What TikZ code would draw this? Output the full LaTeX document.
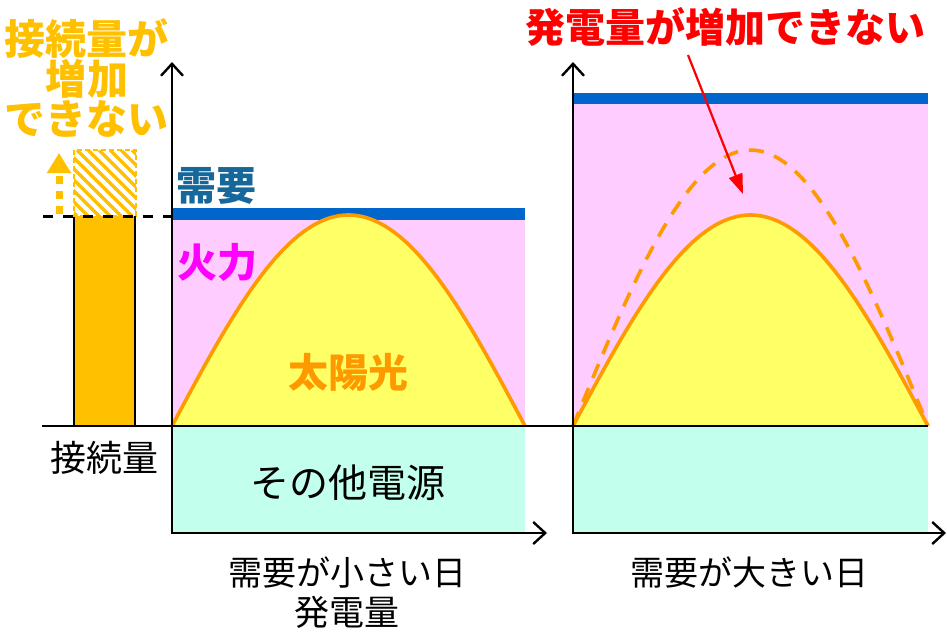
\documentclass[tikz,border=0pt]{standalone}
\usepackage{fontspec}
\newfontfamily\jp{Noto Sans CJK JP}
\usetikzlibrary{arrows.meta}
\definecolor{barorange}{HTML}{FFC000}
\definecolor{pinkfill}{HTML}{FFCCFF}
\definecolor{cyanfill}{HTML}{C2FFEC}
\definecolor{sunfill}{HTML}{FFFF66}
\definecolor{sunline}{HTML}{FF9900}
\definecolor{demandbar}{HTML}{0066CC}
\definecolor{demandtxt}{RGB}{22,104,155}
\definecolor{firetxt}{HTML}{FF00FF}
\definecolor{redtxt}{HTML}{FF0000}
\tikzset{
  axis/.style={line width=2.6pt,-{Straight Barb[length=12pt,width=22pt,line width=2.4pt]}},
  boldlbl/.style={font=\jp\bfseries\fontsize{40}{40}\selectfont,inner sep=0pt},
  plainlbl/.style={font=\jp\fontsize{#1}{#1}\selectfont,inner sep=0pt},
  sunstroke/.style={draw=sunline,line width=3.6pt},
}
\begin{document}
\begin{tikzpicture}[x=1pt,y=-1pt]
\useasboundingbox (0,0) rectangle (947,638);
\fill[white] (0,0) rectangle (947,638);

% ---------- left panel fills ----------
\fill[cyanfill] (172,426) rectangle (525,533);
\fill[pinkfill] (172,216) rectangle (525,426);
\fill[demandbar] (172,208) rectangle (525,220);
\fill[sunfill] plot[domain=0:180,samples=90] ({172+1.96111*\x},{426-211*sin(\x)}) -- cycle;
\draw[sunstroke] plot[domain=0:180,samples=90] ({172+1.96111*\x},{426-211*sin(\x)});

% ---------- right panel fills ----------
\fill[cyanfill] (573,426) rectangle (928,533);
\fill[pinkfill] (573,102) rectangle (928,426);
\fill[demandbar] (573,93) rectangle (928,104);
\fill[sunfill] plot[domain=0:180,samples=90] ({573+1.97222*\x},{426-211*sin(\x)}) -- cycle;
\draw[sunstroke] plot[domain=0:180,samples=90] ({573+1.97222*\x},{426-211*sin(\x)});
\draw[sunstroke,dash pattern=on 15pt off 11pt] plot[domain=0:180,samples=90] ({573+1.97222*\x},{426-276*sin(\x)});

% ---------- left bar (connection amount) ----------
\fill[barorange] (74,216) rectangle (135,426);
\draw[line width=1.5pt] (74,216) -- (74,426) (135,216) -- (135,426);
\begin{scope}
  \clip (74,150) rectangle (136,216);
  \foreach \k in {-77,-66,...,140} {
    \draw[barorange,line width=3.2pt] (\k,150) -- (\k+66,216);
  }
\end{scope}
\draw[barorange,line width=1.6pt,dash pattern=on 5pt off 3pt] (74,150) rectangle (136,216);
\coordinate (upstart) at (59,214);
\coordinate (uptip) at (59,153);
\draw[barorange,line width=7pt,dash pattern=on 8pt off 7pt,-{Triangle[length=20pt,width=23pt]}] (upstart) -- (uptip);

% ---------- base line and dashed demand line ----------
\draw[line width=1.5pt] (42,426) -- (928,426);
\draw[line width=3pt,dash pattern=on 10pt off 10pt] (43,216) -- (172,216);

% ---------- axes ----------
\coordinate (o1) at (172,533);
\coordinate (y1) at (172,62);
\coordinate (x1) at (547,533);
\coordinate (o2) at (573,533);
\coordinate (y2) at (573,62);
\coordinate (x2) at (946,533);
\draw[axis] (172,534.3) -- (y1);
\draw[axis] (170.7,533) -- (x1);
\draw[axis] (573,534.3) -- (y2);
\draw[axis] (571.7,533) -- (x2);

% ---------- red arrow ----------
\coordinate (redstart) at (688,55);
\coordinate (redend) at (743,194);
\draw[redtxt,line width=2.2pt,-{Triangle[length=20pt,width=14pt]}] (redstart) -- (redend);

% ---------- labels ----------
\node[boldlbl,text=barorange,align=center,font=\jp\bfseries\fontsize{41}{40}\selectfont] (lblcannot1) at (87,78) {接続量が\\増加\\できない};
\node[boldlbl,text=redtxt] (lblcannot2) at (725,27) {発電量が増加できない};
\node[boldlbl,text=demandtxt] (lbldemand) at (216,186) {需要};
\node[boldlbl,text=firetxt] (lblfire) at (217,262) {火力};
\node[boldlbl,text=sunline] (lblsun) at (348,372) {太陽光};
\node[plainlbl=39] (lblother) at (348,483) {その他電源};
\node[plainlbl=36] (lblconn) at (104,458) {接続量};
\node[plainlbl=34] (lblsmall) at (347,572) {需要が小さい日};
\node[plainlbl=35] (lblgen) at (347,612) {発電量};
\node[plainlbl=34] (lblbig) at (749,572) {需要が大きい日};
\end{tikzpicture}
\end{document}
